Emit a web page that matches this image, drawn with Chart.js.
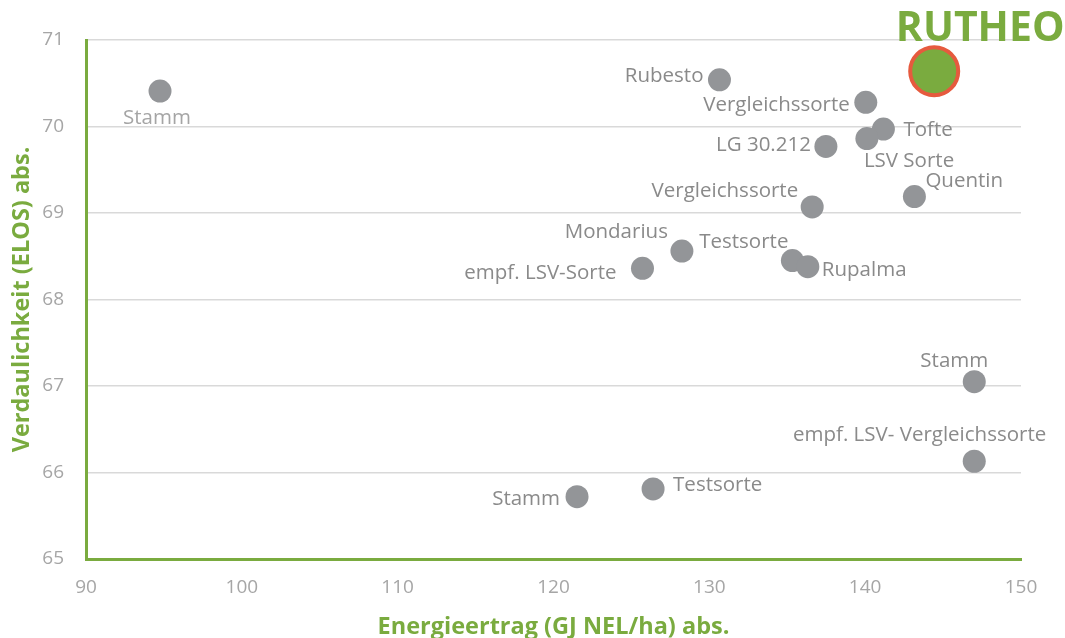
<!DOCTYPE html>
<html>
<head>
<meta charset="utf-8">
<script src="https://cdn.jsdelivr.net/npm/chart.js@4/dist/chart.umd.min.js"></script>
<style>
  body { margin: 0; background: #fff; }
  #wrap { width: 1065px; height: 638px; }
</style>
</head>
<body>
<div id="wrap"><canvas id="chart" width="1065" height="638"></canvas></div>
<script>
// Sorten (Verdaulichkeit gegen Energieertrag)
const varieties = ['Stamm', 'Rubesto', 'Vergleichssorte', 'Tofte', 'LSV Sorte', 'LG 30.212', 'Quentin',
  'Vergleichssorte', 'empf. LSV-Sorte', 'Mondarius', 'Testsorte', 'Rupalma', 'Stamm',
  'empf. LSV- Vergleichssorte', 'Testsorte', 'Stamm'];
const energy = [94.75, 130.65, 140.04, 141.17, 140.11, 137.48, 143.16,
  136.6, 125.71, 128.24, 135.33, 136.32, 147.0, 147.0, 126.39, 121.51];
const digestibility = [70.41, 70.54, 70.28, 69.97, 69.86, 69.77, 69.19,
  69.07, 68.36, 68.56, 68.45, 68.38, 67.05, 66.13, 65.81, 65.72];

const highlightName = 'RUTHEO';
const highlightEnergy = [144.43];
const highlightDigestibility = [70.64];

const xTicks = [90, 100, 110, 120, 130, 140, 150];
const yTicks = [65, 66, 67, 68, 69, 70, 71];

const green = '#7aab3f';
const dotGray = '#939598';
const labelGray = '#8a8a8a';
const font = '"Open Sans", "DejaVu Sans", sans-serif';

// where each name sits next to its dot: [dx, dy, align]
const placement = [
  [-3, 27, 'center'], [-16, -4, 'right'], [-16, 3, 'right'], [20, 1, 'left'],
  [-3, 23, 'left'], [-15, -1, 'right'], [11, -15, 'left'], [-14, -16, 'right'],
  [-26, 5, 'right'], [-14, -19, 'right'], [-4, -18, 'right'], [14, 4, 'left'],
  [14, -21, 'right'], [72, -26, 'right'], [20, -4, 'left'], [-17, 2, 'right']
];

const pointLabels = {
  id: 'pointLabels',
  afterDatasetsDraw(chart) {
    const ctx = chart.ctx;
    ctx.save();
    ctx.textBaseline = 'middle';
    ctx.font = '20.5px ' + font;
    chart.getDatasetMeta(0).data.forEach((pt, i) => {
      const [dx, dy, align] = placement[i];
      ctx.fillStyle = i === 0 ? '#a5a5a5' : labelGray;
      ctx.textAlign = align;
      ctx.fillText(varieties[i], pt.x + dx, pt.y + dy);
    });
    const hp = chart.getDatasetMeta(1).data[0];
    ctx.font = 'bold 41px ' + font;
    ctx.fillStyle = green;
    ctx.textAlign = 'center';
    ctx.fillText(highlightName, hp.x + 46, hp.y - 42);
    ctx.restore();
  }
};

new Chart(document.getElementById('chart'), {
  type: 'scatter',
  data: {
    datasets: [{
      data: energy.map((x, i) => ({ x: x, y: digestibility[i] })),
      backgroundColor: dotGray,
      borderWidth: 0,
      pointRadius: 11.5,
      pointHoverRadius: 11.5
    }, {
      data: highlightEnergy.map((x, i) => ({ x: x, y: highlightDigestibility[i] })),
      backgroundColor: green,
      borderColor: '#e65a3e',
      borderWidth: 4,
      pointRadius: 24,
      pointHoverRadius: 24
    }]
  },
  options: {
    responsive: false,
    animation: false,
    layout: { padding: { left: 0, top: 40, right: 44, bottom: 0 } },
    plugins: { legend: { display: false }, tooltip: { enabled: false } },
    scales: {
      x: {
        type: 'linear',
        min: 90,
        max: 150,
        afterBuildTicks: (s) => { s.ticks = xTicks.map(v => ({ value: v })); },
        afterFit: (s) => { s.height = 79; },
        grid: { display: false, drawTicks: false },
        border: { color: green, width: 3 },
        ticks: { color: '#a6a6a6', font: { family: font, size: 19 }, padding: 17 },
        title: {
          display: true,
          text: 'Energieertrag (GJ NEL/ha) abs.',
          color: green,
          font: { family: font, size: 23.5, weight: 'bold', lineHeight: 1 },
          padding: { top: 0, bottom: -1 }
        }
      },
      y: {
        type: 'linear',
        min: 65,
        max: 71,
        afterBuildTicks: (s) => { s.ticks = yTicks.map(v => ({ value: v })); },
        afterFit: (s) => { s.width = 86; },
        grid: { color: '#d9d9d9', lineWidth: 1.5, drawTicks: false },
        border: { color: green, width: 3 },
        ticks: { color: '#a6a6a6', font: { family: font, size: 19 }, padding: 22 },
        title: {
          display: true,
          text: 'Verdaulichkeit (ELOS) abs.',
          color: green,
          font: { family: font, size: 23.5, weight: 'bold', lineHeight: 1.2 },
          padding: { top: 8, bottom: 0 }
        }
      }
    }
  },
  plugins: [pointLabels]
});
</script>
</body>
</html>
